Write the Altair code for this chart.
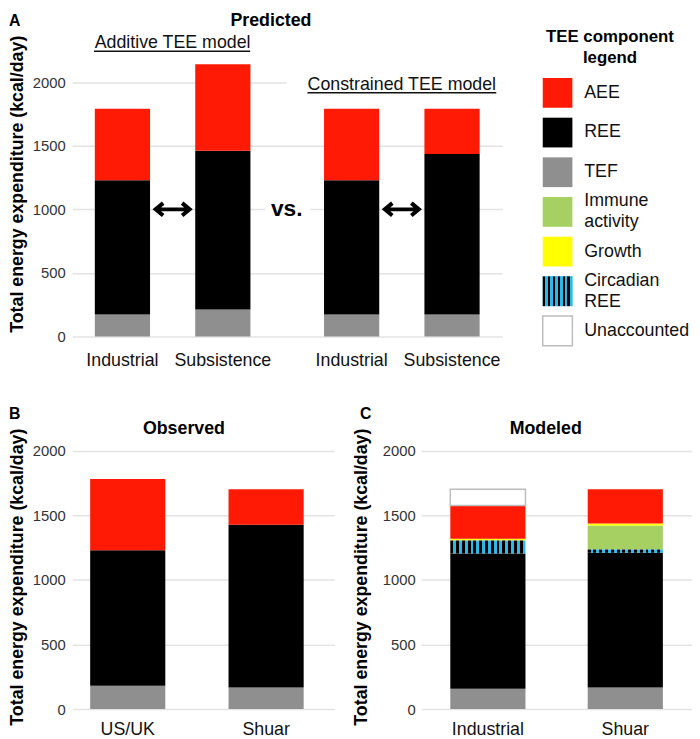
import altair as alt
import pandas as pd

FONT = "Liberation Sans"
BLUE = "#2bb8ea"

# ---------------- data ----------------
components = ["AEE", "REE", "TEF", "Immune activity", "Growth", "Circadian REE", "Unaccounted"]
legend_labels = ["AEE", "REE", "TEF", "Immune\nactivity", "Growth", "Circadian\nREE", "Unaccounted"]
colors = ["#ff1a05", "#000000", "#8f8f8f", "#a6d162", "#ffff00", BLUE, "#ffffff"]
stack_order = ["TEF", "REE", "Circadian REE", "Immune activity", "Growth", "AEE", "Unaccounted"]

# Panel A (Predicted)
a_models = ["Additive", "Additive", "Constrained", "Constrained"]
a_groups = ["Industrial", "Subsistence", "Industrial", "Subsistence"]
a_tef = [173, 212, 173, 173]
a_ree = [1056, 1250, 1056, 1263]
a_aee = [562, 679, 562, 355]
model_titles = ["Additive TEE model", "Constrained TEE model"]

# Panel B (Observed)
b_groups = ["US/UK", "Shuar"]
b_tef = [181, 168]
b_ree = [1049, 1258]
b_aee = [550, 275]

# Panel C (Modeled)
c_groups = ["Industrial", "Shuar"]
c_tef = [157, 168]
c_ree = [1048, 1042]
c_circ = [100, 25]
c_immune = [0, 185]
c_growth = [14, 16]
c_aee = [256, 265]
c_unacc = [126, 0]

y_ticks = [0, 500, 1000, 1500, 2000]
arrow_level = 1000
ytitle = "Total energy expenditure (kcal/day)"


def stack(keys, series, extra=None):
    rows = []
    for i, key in enumerate(keys):
        base = 0
        for comp in stack_order:
            if comp not in series:
                continue
            v = series[comp][i]
            if v <= 0:
                continue
            r = dict(key=key, component=comp, y0=base, y1=base + v)
            if extra:
                for k, lst in extra.items():
                    r[k] = lst[i]
            rows.append(r)
            base += v
    return pd.DataFrame(rows)


def stripes(n, blue_first=True):
    stops = []
    for i in range(n):
        a, m, b = i / n, (i + 0.5) / n, (i + 1) / n
        c1, c2 = (BLUE, "#000000") if blue_first else ("#000000", BLUE)
        stops += [alt.GradientStop(color=c1, offset=a), alt.GradientStop(color=c1, offset=m),
                  alt.GradientStop(color=c2, offset=m), alt.GradientStop(color=c2, offset=b)]
    return alt.LinearGradient(gradient="linear", stops=stops, x1=0, x2=1, y1=0, y2=0)


color_scale = alt.Scale(domain=components, range=colors)
one = pd.DataFrame({"k": [0]})  # single row for annotations


def note(text, x, y, size=18, weight="bold", align="center"):
    return alt.Chart(one).mark_text(text=text, fontSize=size, fontWeight=weight, align=align,
                                    baseline="middle", color="black").encode(
        x=alt.value(x), y=alt.value(y))


def yaxis(tp, lp):
    return alt.Axis(values=y_ticks, format="d", title=ytitle, titleFontSize=18,
                    titleFontWeight="bold", titleColor="#000000", titlePadding=tp,
                    labelFontSize=15, labelColor="#333333", labelPadding=lp, domain=False,
                    ticks=False, gridColor="#e3e3e3", gridWidth=1.5)


# ---------------- Panel A ----------------
W_A, H_A = 435, 309
dfA = stack(list(range(4)), {"TEF": a_tef, "REE": a_ree, "AEE": a_aee},
            extra={"model": a_models, "group": a_groups})
labA = pd.DataFrame({"model": a_models, "group": a_groups})
arrA = pd.DataFrame({"model": ["Additive", "Constrained"], "y": [arrow_level, arrow_level],
                     "title": model_titles})

xA = alt.X("model:N", scale=alt.Scale(domain=["Additive", "Constrained"], paddingInner=0.124,
                                      paddingOuter=0), axis=None)
xoA = alt.XOffset("group:N", scale=alt.Scale(domain=["Industrial", "Subsistence"],
                                             paddingInner=0.45, paddingOuter=0.225))
yscA = alt.Scale(domain=[0, 2403], nice=False)

barsA = alt.Chart(dfA).mark_bar().encode(
    x=xA, xOffset=xoA,
    y=alt.Y("y0:Q", scale=yscA, axis=yaxis(6, 7)), y2="y1:Q",
    color=alt.Color("component:N", scale=color_scale, legend=None))

labelsA = alt.Chart(labA).mark_text(fontSize=18, baseline="middle", color="#111111").encode(
    x=xA, xOffset=xoA, y=alt.value(H_A + 25), text="group:N")

# white patches hiding grid behind annotations
maskA = alt.Chart(one).mark_rect(color="white").encode(
    x=alt.value(217), x2=alt.value(W_A), y=alt.datum(1978), y2=alt.datum(2022))
maskVs = alt.Chart(one).mark_rect(color="white").encode(
    x=alt.value(195), x2=alt.value(241), y=alt.datum(985), y2=alt.datum(1015))

arrow_path = ("M-0.85,0 L0.85,0 M-0.52,-0.34 L-0.93,0 L-0.52,0.34 "
              "M0.52,-0.34 L0.93,0 L0.52,0.34")
arrowsA = alt.Chart(arrA).mark_point(shape=arrow_path, size=1369, filled=False, strokeWidth=4,
                                      color="black", opacity=1, strokeJoin="miter").encode(
    x=xA, y="y:Q")

vsA = alt.Chart(one).mark_text(text="vs.", fontSize=23, fontWeight="bold", color="black",
                               baseline="middle").encode(x=alt.value(217), y=alt.datum(arrow_level))

title1 = alt.Chart(arrA).transform_filter("datum.model == 'Additive'").mark_text(
    fontSize=18, baseline="middle", color="#111111").encode(x=xA, y=alt.value(12.5), text="title:N")
title2 = alt.Chart(arrA).transform_filter("datum.model == 'Constrained'").mark_text(
    fontSize=18, baseline="middle", color="#111111").encode(x=xA, y=alt.value(54.5), text="title:N")

ul1 = alt.Chart(one).mark_rule(color="#111111", strokeWidth=1.4).encode(
    x=alt.value(22), x2=alt.value(180), y=alt.value(20.5))
ul2 = alt.Chart(one).mark_rule(color="#111111", strokeWidth=1.4).encode(
    x=alt.value(238), x2=alt.value(429), y=alt.value(62.5))

headA = note("Predicted", 201, -10)
letterA = note("A", -64, -10, size=16, align="left")

chartA = alt.layer(barsA, maskA, maskVs, labelsA, arrowsA, vsA, title1, title2, ul1, ul2, headA,
                   letterA).properties(width=W_A, height=H_A)

# ---------------- Legend ----------------
dfL = pd.DataFrame({"component": components, "label": legend_labels})
ysL = alt.Y("component:N", scale=alt.Scale(domain=components, range=[42.5, 323.5],
                                          paddingInner=0.25, paddingOuter=0.125), axis=None)
rectL = alt.Chart(dfL).mark_rect(stroke="#bdbdbd", strokeWidth=1.5).encode(
    x=alt.value(0), x2=alt.value(30), y=ysL,
    fill=alt.Fill("component:N", scale=color_scale, legend=None),
    strokeOpacity=alt.condition("datum.component == 'Unaccounted'", alt.value(1), alt.value(0)))
circL = alt.Chart(dfL).transform_filter("datum.component == 'Circadian REE'").mark_rect(
    fill=stripes(6, blue_first=False)).encode(x=alt.value(0), x2=alt.value(30), y=ysL)
textL1 = alt.Chart(dfL).transform_filter("indexof(datum.label, '\\n') < 0").mark_text(
    fontSize=18, align="left", baseline="middle", color="#111111").encode(
    x=alt.value(42), y=ysL, text="label:N")
textL2 = alt.Chart(dfL).transform_filter("indexof(datum.label, '\\n') >= 0").mark_text(
    fontSize=18, align="left", baseline="middle", lineBreak="\n", lineHeight=21.5, dy=-10.75,
    color="#111111").encode(x=alt.value(42), y=ysL, text="label:N")
titleL = alt.Chart(one).mark_text(text="TEE component\nlegend", lineBreak="\n", fontSize=17,
                                  fontWeight="bold", lineHeight=21, baseline="middle",
                                  color="black").encode(x=alt.value(68), y=alt.value(6.5))
legend = alt.layer(rectL, circL, textL1, textL2, titleL).properties(width=150, height=355)

# ---------------- Panel B ----------------
W_B, H_B = 265, 268
yscB = alt.Scale(domain=[0, 2050], nice=False)
dfB = stack(b_groups, {"TEF": b_tef, "REE": b_ree, "AEE": b_aee})
xB = alt.X("key:N", scale=alt.Scale(domain=b_groups, paddingInner=0.457, paddingOuter=0.175,
                                    align=0.37),
           axis=alt.Axis(title=None, labelFontSize=18, labelColor="#111111", labelPadding=12,
                         domain=False, ticks=False, labelAngle=0))
barsB = alt.Chart(dfB).mark_bar().encode(
    x=xB, y=alt.Y("y0:Q", scale=yscB, axis=yaxis(6, 7)), y2="y1:Q",
    color=alt.Color("component:N", scale=color_scale, legend=None))
headB = note("Observed", 113, -15)
letterB = note("B", -64, -30, size=16, align="left")
chartB = alt.layer(barsB, headB, letterB).properties(width=W_B, height=H_B)

# ---------------- Panel C ----------------
W_C, H_C = 274, 268
dfC = stack(c_groups, {"TEF": c_tef, "REE": c_ree, "Circadian REE": c_circ,
                       "Immune activity": c_immune, "Growth": c_growth, "AEE": c_aee,
                       "Unaccounted": c_unacc})
xC = alt.X("key:N", scale=alt.Scale(domain=c_groups, paddingInner=0.453, paddingOuter=0.212),
           axis=alt.Axis(title=None, labelFontSize=18, labelColor="#111111", labelPadding=12,
                         domain=False, ticks=False, labelAngle=0))
barsC = alt.Chart(dfC).transform_filter(
    "datum.component != 'Circadian REE' && datum.component != 'Unaccounted'").mark_bar().encode(
    x=xC, y=alt.Y("y0:Q", scale=yscB, axis=yaxis(12, 6)), y2="y1:Q",
    color=alt.Color("component:N", scale=color_scale, legend=None))
circC = alt.Chart(dfC).transform_filter("datum.component == 'Circadian REE'").mark_bar(
    fill=stripes(13, blue_first=False)).encode(x=xC, y="y0:Q", y2="y1:Q")
unaccC = alt.Chart(dfC).transform_filter("datum.component == 'Unaccounted'").mark_bar(
    fill="white", stroke="#bdbdbd", strokeWidth=1.5).encode(x=xC, y="y0:Q", y2="y1:Q")
headC = note("Modeled", 126, -15)
letterC = note("C", -62, -30, size=16, align="left")
chartC = alt.layer(barsC, circC, unaccC, headC, letterC).properties(width=W_C, height=H_C)

top = alt.hconcat(chartA, legend, spacing=40)
bottom = alt.hconcat(chartB, chartC, spacing=18)
chart = alt.vconcat(top, bottom, spacing=25).properties(padding=0).configure(
    font=FONT).configure_view(strokeWidth=0)

chart.save("out.html", embed_options={"renderer": "svg", "actions": False})
